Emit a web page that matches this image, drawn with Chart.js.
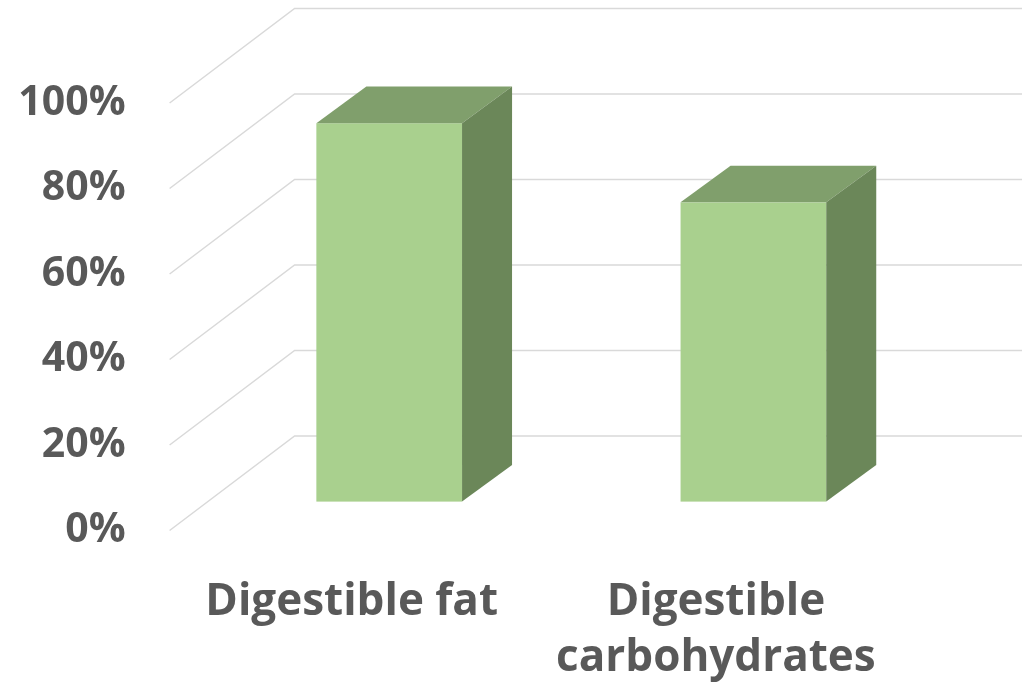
<!DOCTYPE html>
<html>
<head>
<meta charset="utf-8">
<script src="https://cdn.jsdelivr.net/npm/chart.js@4"></script>
<style>
  html, body { margin: 0; padding: 0; background: #ffffff; }
  #wrap { width: 1022px; height: 690px; position: relative; }
</style>
</head>
<body>
<div id="wrap"><canvas id="c" width="1022" height="690"></canvas></div>
<script>
const categories = ['Digestible fat', ['Digestible', 'carbohydrates']];
const values = [88.5, 70];
const tickValues = [0, 20, 40, 60, 80, 100];

// 3D geometry (pixels)
const WALL_DX = 125, WALL_DY = -94.5;     // depth of the whole plot box
const BAR_DX = 50, BAR_DY = -36.7;        // depth of a bar
const FRONT_DX = (WALL_DX - BAR_DX) / 2;  // bar front face offset
const FRONT_DY = (WALL_DY - BAR_DY) / 2;

const colors = {
  front: '#A9D08E',
  top: '#809F6C',
  side: '#6B8759',
  grid: '#D9D9D9',
  text: '#595959'
};

const grid3d = {
  id: 'grid3d',
  beforeDatasetsDraw(chart) {
    const ctx = chart.ctx;
    const y = chart.scales.y;
    const a = chart.chartArea;
    ctx.save();
    ctx.strokeStyle = colors.grid;
    ctx.lineWidth = 1.5;
    tickValues.forEach(v => {
      const py = y.getPixelForValue(v);
      ctx.beginPath();
      ctx.moveTo(a.left, py);
      ctx.lineTo(a.left + WALL_DX, py + WALL_DY);
      ctx.lineTo(a.right + WALL_DX, py + WALL_DY);
      ctx.stroke();
    });
    ctx.restore();
  },
  afterDatasetsDraw(chart) {
    const ctx = chart.ctx;
    const meta = chart.getDatasetMeta(0);
    ctx.save();
    meta.data.forEach(bar => {
      const p = bar.getProps(['x', 'y', 'base', 'width'], true);
      const l = p.x - p.width / 2 + FRONT_DX;
      const r = p.x + p.width / 2 + FRONT_DX;
      const t = p.y + FRONT_DY;
      const b = p.base + FRONT_DY;
      // front
      ctx.fillStyle = colors.front;
      ctx.fillRect(l, t, r - l, b - t);
      // top
      ctx.fillStyle = colors.top;
      ctx.beginPath();
      ctx.moveTo(l, t);
      ctx.lineTo(r, t);
      ctx.lineTo(r + BAR_DX, t + BAR_DY);
      ctx.lineTo(l + BAR_DX, t + BAR_DY);
      ctx.closePath();
      ctx.fill();
      // side
      ctx.fillStyle = colors.side;
      ctx.beginPath();
      ctx.moveTo(r, t);
      ctx.lineTo(r + BAR_DX, t + BAR_DY);
      ctx.lineTo(r + BAR_DX, b + BAR_DY);
      ctx.lineTo(r, b);
      ctx.closePath();
      ctx.fill();
    });
    ctx.restore();
  }
};

new Chart(document.getElementById('c'), {
  type: 'bar',
  data: {
    labels: categories,
    datasets: [{
      data: values,
      backgroundColor: 'rgba(0,0,0,0)',
      borderWidth: 0,
      barPercentage: 0.4,
      categoryPercentage: 1.0
    }]
  },
  options: {
    responsive: false,
    animation: false,
    events: [],
    layout: { padding: { top: 103, right: 124, left: 0, bottom: 0 } },
    plugins: { legend: { display: false }, tooltip: { enabled: false } },
    scales: {
      x: {
        grid: { display: false, drawTicks: false },
        border: { display: false },
        afterFit: s => { s.height = 159.5; },
        ticks: {
          color: colors.text,
          padding: 44,
          maxRotation: 0,
          autoSkip: false,
          font: { family: 'Open Sans', weight: 'bold', size: 44, lineHeight: 1.27 }
        }
      },
      y: {
        min: 0,
        max: 100,
        grid: { display: false, drawTicks: false },
        border: { display: false },
        afterFit: s => { s.width = 169.6; },
        afterBuildTicks: s => { s.ticks = tickValues.map(v => ({ value: v })); },
        ticks: {
          color: colors.text,
          padding: 44,
          font: { family: 'Open Sans', weight: 'bold', size: 41 },
          callback: v => v + '%'
        }
      }
    }
  },
  plugins: [grid3d]
});
</script>
</body>
</html>
